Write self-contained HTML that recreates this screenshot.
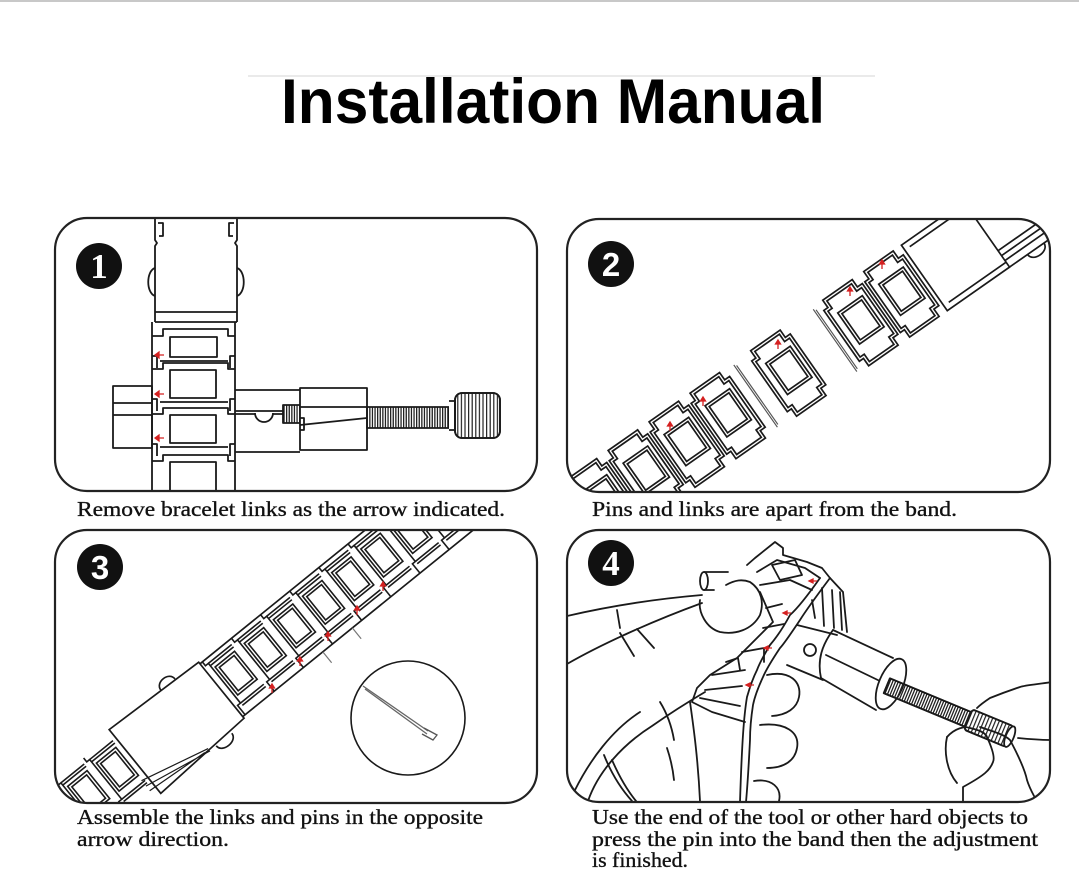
<!DOCTYPE html>
<html><head><meta charset="utf-8">
<style>
html,body{margin:0;padding:0;background:#fff;}
svg{display:block;}
</style></head>
<body>
<svg width="1079" height="884" viewBox="0 0 1079 884" xmlns="http://www.w3.org/2000/svg">
<defs>
 <clipPath id="c1"><rect x="55" y="218" width="482" height="273" rx="32"/></clipPath>
 <clipPath id="c2"><rect x="567" y="219" width="483" height="273" rx="32"/></clipPath>
 <clipPath id="c3"><rect x="55" y="530" width="482" height="273" rx="32"/></clipPath>
 <clipPath id="c4"><rect x="567" y="530" width="483" height="272" rx="32"/></clipPath>
 <pattern id="vs" width="2.6" height="40" patternUnits="userSpaceOnUse"><rect width="1.3" height="40" fill="#222"/></pattern>
 <pattern id="vs2" width="3.6" height="60" patternUnits="userSpaceOnUse"><rect width="1.2" height="60" fill="#222"/></pattern>
 <g id="L2" stroke="#1a1a1a" stroke-width="1.7">
  <path fill="#fff" d="M-20,-40 H16 V-31 H22 V31 H16 V40 H-20 V31 H-25 V-31 H-20 Z"/>
  <path fill="none" d="M-17,-37 H13 V-28 H19 V28 H13 V37 H-17 V28 H-22 V-28 H-17 Z"/>
  <rect fill="none" x="-15" y="-21" width="30" height="38"/>
  <rect fill="none" x="-12" y="-18" width="24" height="32"/>
 </g>
 <g id="L3" stroke="#1a1a1a" stroke-width="1.6" fill="none">
  <path d="M-18.75,-34 V-29 H-15 V22 H-18.75 V34"/>
  <path d="M-15,-29 H15 M-15,22 H15 M-15,-26 H15 M-15,25 H15"/>
  <rect x="-12" y="-22" width="25" height="36"/>
  <rect x="-9" y="-19" width="19" height="30"/>
 </g>
</defs>
<rect width="1079" height="884" fill="#fff"/>
<rect x="0" y="0" width="1079" height="2" fill="#c8c8c8"/>
<line x1="248" y1="76" x2="875" y2="76" stroke="#e4e4e4" stroke-width="1.5"/>
<text x="281" y="123" font-family="Liberation Sans, Arial, sans-serif" font-weight="bold" font-size="63" textLength="544" lengthAdjust="spacingAndGlyphs" fill="#000">Installation Manual</text>

<!-- PANEL 1 -->
<g clip-path="url(#c1)" fill="none" stroke="#1a1a1a" stroke-width="1.8" stroke-linejoin="round">
 <rect x="113" y="386" width="39" height="62"/>
 <path d="M113,403 H152 M113,415 H152"/>
 <path d="M235,390 H300 M235,452 H300"/>
 <path d="M235,411 H283 M235,414 H255"/>
 <path d="M255,413 A9,9 0 0 0 273,413 M273,414 H283"/>
 <rect x="283" y="405" width="17" height="18" fill="url(#vs)"/>
 <rect x="300" y="388" width="67" height="62" fill="#fff"/>
 <path d="M300,407 H367 M300,425 L367,418 M300,418 h4 v12 h-4"/>
 <rect x="367" y="407" width="82" height="21" fill="url(#vs)"/>
 <path d="M449,401 h6 v29 h-6" fill="#fff"/>
 <rect x="455" y="393" width="45" height="45" rx="7" fill="url(#vs2)"/>
 <rect x="455" y="393" width="45" height="45" rx="7"/>
 <!-- clasp -->
 <path d="M155,218 V240 l2,3 l-2,3 V322 M237,218 V240 l-2,3 l2,3 V322"/>
 <path d="M158,223 h5 v13 h-4 M234,223 h-5 v13 h4"/>
 <path d="M155,268 C146,271 146,293 155,296 M237,268 C246,271 246,293 237,296"/>
 <path d="M155,312 H237 M155,322 H237"/>
 <path d="M152,322 V495 M235,322 V495"/>
 <path d="M152,336 H163 V329 H228 V336 H235 M160,361 H228"/><rect x="170" y="337" width="47" height="20"/>
 <path d="M152,369 H163 V363 H228 V369 H235 M160,402 H228"/><rect x="170" y="370" width="46" height="28"/>
 <path d="M152,414 H163 V408 H228 V414 H235 M160,447 H228"/><rect x="170" y="415" width="46" height="28"/>
 <path d="M152,461 H163 V455 H228 V461 H235"/><rect x="170" y="462" width="46" height="40"/>
 <path d="M152,356 h5 v12 M152,399 h5 v12 M152,444 h5 v12 M235,356 h-5 v12 M235,399 h-5 v12 M235,444 h-5 v12"/>
</g>
<g fill="#d42020" stroke="#d42020" stroke-width="1.3">
 <path d="M155,355 l4,-3 v6 z M158,355 h6"/>
 <path d="M155,394 l4,-3 v6 z M158,394 h6"/>
 <path d="M155,438 l4,-3 v6 z M158,438 h6"/>
</g>
<rect x="55" y="218" width="482" height="273" rx="32" fill="none" stroke="#222" stroke-width="2.2"/>
<circle cx="99" cy="266" r="23" fill="#111"/>
<text x="99" y="278" text-anchor="middle" font-family="Liberation Serif, serif" font-weight="bold" font-size="35" fill="#fff">1</text>

<!-- PANEL 2 -->
<g clip-path="url(#c2)">
 <g transform="translate(790,372) rotate(-35)">
  <use href="#L2" x="-324"/>
  <use href="#L2" x="-274"/>
  <use href="#L2" x="-224"/>
  <use href="#L2" x="-174"/>
  <use href="#L2" x="-124"/>
  <use href="#L2" x="-74"/>
  <use href="#L2" x="0"/>
  <use href="#L2" x="138"/>
  <use href="#L2" x="88"/>
  <g fill="none" stroke="#1a1a1a" stroke-width="1.7">
   <path fill="#fff" d="M164,-40 H240 V40 H164 Z"/>
   <path d="M170,-34 H240 M170,34 H240 M240,20 H440 M240,26 H440 M240,32 H440 M240,-40 H440 M240,40 H440"/>
   <path d="M262,40 C262,50 282,50 282,40"/>
   <path stroke="#555" stroke-width="1.2" d="M-42,-38 V38 M-40,-36 V36 M55,-38 V38 M57,-36 V36"/>
  </g>
 </g>
 <g fill="#d42020" stroke="#d42020" stroke-width="1.3">
  <path d="M670,422 l-2.5,4 h5 z M670,425 v6"/>
  <path d="M703,397 l-2.5,4 h5 z M703,400 v6"/>
  <path d="M778,340 l-2.5,4 h5 z M778,343 v6"/>
  <path d="M850,287 l-2.5,4 h5 z M850,290 v6"/>
  <path d="M882,260 l-2.5,4 h5 z M882,263 v6"/>
 </g>
</g>
<rect x="567" y="219" width="483" height="273" rx="32" fill="none" stroke="#222" stroke-width="2.2"/>
<circle cx="611" cy="264" r="23" fill="#111"/>
<text x="611" y="276" text-anchor="middle" font-family="Liberation Sans, sans-serif" font-weight="bold" font-size="33" fill="#fff">2</text>

<!-- PANEL 3 -->
<g clip-path="url(#c3)">
 <g transform="translate(418,531) rotate(-39)" stroke="#1a1a1a" stroke-width="1.7" fill="none">
  <path d="M-253,-34 H320 M-253,34 H320"/>
  <use href="#L3" x="-231.25"/>
  <use href="#L3" x="-193.75"/>
  <use href="#L3" x="-156.25"/>
  <use href="#L3" x="-118.75"/>
  <use href="#L3" x="-81.25"/>
  <use href="#L3" x="-43.75"/>
  <use href="#L3" x="-6.25"/>
  <use href="#L3" x="31.25"/>
  <use href="#L3" x="68.75"/>
  <use href="#L3" x="106.25"/>
  <use href="#L3" x="143.75"/>
  <path fill="#fff" d="M-253,-36 L-365,-40 L-365,42 L-253,36 Z"/>
  <path d="M-300,-38 C-300,-48 -282,-48 -282,-38"/>
  <path d="M-292,40 C-292,50 -272,50 -272,40"/>
  <use href="#L3" x="-384"/>
  <use href="#L3" x="-421"/>
  <use href="#L3" x="-458"/>
  <path stroke-width="1.2" d="M-300,37 L-372,20 M-300,40 L-372,27 M-305,38 L-372,33"/>
  <path stroke="#777" stroke-width="1.2" d="M-150,34 V48 M-112,34 V48"/>
 </g>
 <g fill="#d42020" stroke="#d42020" stroke-width="1.3">
  <path d="M272,684 l-2.5,4 h5 z M272,687 v6"/>
  <path d="M300,657 l-2.5,4 h5 z M300,660 v6"/>
  <path d="M328,632 l-2.5,4 h5 z M328,635 v6"/>
  <path d="M357,606 l-2.5,4 h5 z M357,609 v6"/>
  <path d="M383,582 l-2.5,4 h5 z M383,585 v6"/>
 </g>
 <circle cx="408" cy="718" r="57" fill="#fff" stroke="#1a1a1a" stroke-width="1.6"/>
 <path d="M363,686 L428,731 M365,689 L427,734" stroke="#666" stroke-width="1.3" fill="none"/>
 <path d="M424,728 L437,735 L433,740 L422,734" stroke="#555" stroke-width="1.3" fill="none"/>
</g>
<rect x="55" y="530" width="482" height="273" rx="32" fill="none" stroke="#222" stroke-width="2.2"/>
<circle cx="100" cy="567" r="23" fill="#111"/>
<text x="100" y="579" text-anchor="middle" font-family="Liberation Sans, sans-serif" font-weight="bold" font-size="33" fill="#fff">3</text>

<!-- PANEL 4 -->
<g clip-path="url(#c4)" fill="none" stroke="#1a1a1a" stroke-width="1.8" stroke-linejoin="round" stroke-linecap="round">
 <!-- left hand top -->
 <path d="M567,616 C610,606 655,599 702,595"/>
 <path d="M567,664 C600,645 650,622 702,603"/>
 <path d="M617,610 L620,628 M620,633 L634,656 M637,629 L654,648"/>
 <path d="M704,572 H728 M704,590 H714"/>
 <ellipse cx="704" cy="581" rx="4" ry="9"/>
 <path d="M700,600 C698,612 706,628 720,632 C735,635 752,630 760,615 C764,603 762,590 750,582 C742,579 735,580 726,585"/>
 <!-- band top links -->
 <path d="M747,565 L755,558 L775,542 L783,548 L783,555 L807,562 L822,568 L830,578 L843,592 L847,632"/>
 <path d="M757,572 L777,560 L805,568 L820,578"/>
 <path d="M772,565 L795,560 L802,575 L780,580 Z"/>
 <path d="M760,585 L790,580 L812,590"/>
 <path d="M830,578 C815,598 805,612 800,620 C790,635 783,645 780,648 C772,660 766,670 763,677 C757,690 754,700 753,705 C751,718 750,730 750,740 C749,760 748,780 746,802"/>
 <path d="M820,578 C808,595 798,608 790,615 C783,628 776,638 770,645 C764,655 760,662 757,670 C752,680 749,690 747,697 C744,715 742,740 740,802"/>
 <path d="M760,592 L773,622 L760,635 L737,658 L710,675 L697,688 L692,702 L712,712 L745,722"/>
 <path d="M766,608 L782,604 M763,628 L784,624 M742,652 L764,648 L764,662 M712,675 L745,670 M705,690 L742,686"/>
 <path d="M726,662 L738,658 L740,670 M700,698 L740,706"/>
 <path d="M832,590 L834,628 M840,592 L842,630 M822,588 L824,626 M812,600 L815,618"/>
 <!-- tool -->
 <path d="M797,625 L837,635 M787,665 L823,680"/>
 <circle cx="810" cy="650" r="6"/>
 <path d="M833,630 L893,658"/>
 <path d="M833,630 C822,645 817,660 821,678"/>
 <path d="M821,678 L876,710"/>
 <path d="M826,655 L884,683"/>
 <ellipse cx="891" cy="684" rx="12" ry="27" transform="rotate(23 891 684)" fill="#fff"/>
 <g transform="translate(885,685) rotate(22.5)">
  <rect x="2" y="-8" width="88" height="16" fill="url(#vs)"/>
  <rect x="2" y="-8" width="88" height="16"/>
  <rect x="90" y="-11" width="45" height="22" rx="3" fill="url(#vs2)"/>
  <rect x="90" y="-11" width="45" height="22" rx="3"/>
  <ellipse cx="135" cy="0" rx="4" ry="11" fill="#fff"/>
 </g>
 <!-- right hand -->
 <path d="M947,737 C955,728 965,726 970,728 C978,730 985,732 987,737 C992,748 995,758 993,762 C990,770 985,775 963,787 L963,803"/>
 <path d="M947,737 C944,750 946,770 957,783"/>
 <path d="M980,727 C995,732 1005,735 1010,740 C1018,755 1025,770 1027,780 C1030,790 1035,797 1037,802"/>
 <path d="M1052,682 C1040,684 1025,685 1020,687 C1005,692 995,696 990,698 C984,702 980,705 977,708"/>
 <path d="M1052,740 C1040,740 1028,739 1018,738"/>
 <!-- lower hand -->
 <path d="M588,801 C598,772 622,745 652,726 C672,712 688,702 705,692"/>
 <path d="M604,755 C612,775 622,790 632,801 M612,760 C619,776 627,790 636,801"/>
 <path d="M660,702 C668,715 672,728 674,740 M667,748 C671,760 673,770 674,780"/>
 <path d="M575,790 C590,760 612,730 640,712"/>
 <path d="M690,702 C694,730 698,760 700,801"/>
 <path d="M767,675 C790,670 802,682 799,697 C797,708 787,715 772,716"/>
 <path d="M760,725 C785,722 800,732 797,748 C795,760 785,768 767,768"/>
 <path d="M754,781 C772,778 782,788 779,801"/>
</g>
<g fill="#d42020" stroke="#d42020" stroke-width="1.3">
 <path d="M809,581 l4,-2 l0,4 z M812,581 h5"/>
 <path d="M783,613 l4,-2 l0,4 z M786,613 h5"/>
 <path d="M764,648 l4,-2 l0,4 z M767,648 h5"/>
 <path d="M746,685 l4,-2 l0,4 z M749,685 h5"/>
</g>
<rect x="567" y="530" width="483" height="272" rx="32" fill="none" stroke="#222" stroke-width="2.2"/>
<circle cx="611" cy="563" r="23" fill="#111"/>
<text x="611" y="575" text-anchor="middle" font-family="Liberation Serif, serif" font-weight="bold" font-size="35" fill="#fff">4</text>

<!-- captions -->
<g font-family="Liberation Serif, 'Times New Roman', serif" font-size="21" fill="#111" stroke="#111" stroke-width="0.35">
 <text x="77" y="516" textLength="428" lengthAdjust="spacingAndGlyphs">Remove bracelet links as the arrow indicated.</text>
 <text x="592" y="516" textLength="365" lengthAdjust="spacingAndGlyphs">Pins and links are apart from the band.</text>
 <text x="77" y="824" textLength="406" lengthAdjust="spacingAndGlyphs">Assemble the links and pins in the opposite</text>
 <text x="77" y="846" textLength="152" lengthAdjust="spacingAndGlyphs">arrow direction.</text>
 <text x="592" y="824" textLength="436" lengthAdjust="spacingAndGlyphs">Use the end of the tool or other hard objects to</text>
 <text x="592" y="846" textLength="446" lengthAdjust="spacingAndGlyphs">press the pin into the band then the adjustment</text>
 <text x="592" y="867" textLength="96" lengthAdjust="spacingAndGlyphs">is finished.</text>
</g>
</svg>
</body></html>
